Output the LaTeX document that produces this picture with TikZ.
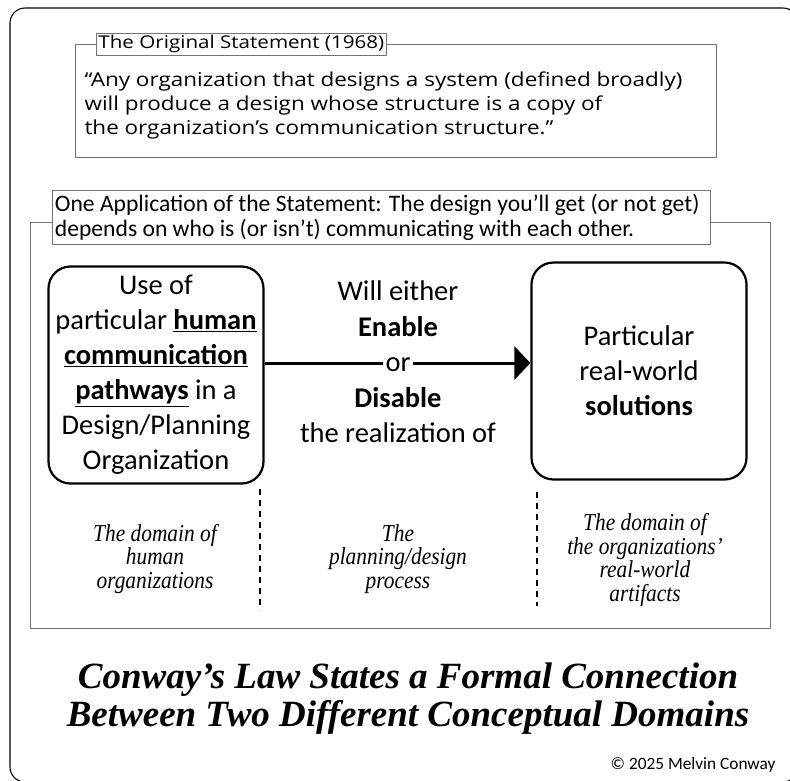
\documentclass[tikz,border=0pt]{standalone}
\usepackage{fontspec}
\setmainfont{Carlito}
\newfontfamily\quotefont[FakeStretch=1.17]{Open Sans}
\newfontfamily\notefont[FakeStretch=0.88]{Liberation Serif}
\newfontfamily\headfont{Liberation Serif}
\usetikzlibrary{arrows.meta}
\begin{document}
\begin{tikzpicture}[x=1pt,y=-1pt, line join=round,
    frame/.style={draw=black!55, line width=0.9pt},
    tag/.style={draw=black!55, line width=0.9pt, fill=white, inner sep=2.5pt, anchor=north west, align=flush left},
    domainbox/.style={draw, line width=2.2pt, rounded corners=22pt, minimum width=215pt, minimum height=217pt, align=center, font=\fontsize{28.5}{35}\selectfont},
    note/.style={align=center, font=\notefont\itshape\fontsize{24.3}{23.5}\selectfont},
    divider/.style={line width=2.6pt, dash pattern=on 6pt off 5pt}]
    \useasboundingbox (0,0) rectangle (790,780);
    \draw[line width=1.1pt, rounded corners=15pt] (10,8) rectangle (798,782);
    % the original statement
    \draw[frame] (75,44) rectangle (716,157);
    \node[tag, inner sep=2pt, font=\quotefont\fontsize{17.6}{20}\selectfont] (origtag) at (96,33) {The Original Statement (1968)};
    \node[anchor=north west, align=left, font=\quotefont\fontsize{19.2}{24}\selectfont] (quote) at (81,68)
        {“Any organization that designs a system (defined broadly)\\
         will produce a design whose structure is a copy of\\
         the organization’s communication structure.”};
    % one application
    \draw[frame] (52,222) -- (30,222) -- (30,628) -- (770,628) -- (770,222) -- (710,222);
    \node[tag, inner ysep=4pt, text width=653pt, font=\fontsize{23.6}{25}\selectfont] (apptag) at (52,190)
        {One Application of the Statement: The design you’ll get (or not get)\\
         depends on who is (or isn’t) communicating with each other.};
    \node[domainbox] (human) at (156,375)
        {Use of\\ particular \textbf{\underline{human}}\\ \textbf{\underline{communication}}\\
         \textbf{\underline{pathways}} in a\\ Design/Planning\\ Organization};
    \node[domainbox] (solutions) at (639,371)
        {Particular\\ real-world\\ \textbf{solutions}};
    \draw[line width=3pt, -{Triangle[length=16pt, width=33pt]}] (human.east |- 0,363) -- (solutions.west |- 0,363);
    \node[align=center, font=\fontsize{28.5}{35.5}\selectfont] (process) at (398,362)
        {Will either\\ \textbf{Enable}\\ \colorbox{white}{\strut or}\\ \textbf{Disable}\\ the realization of};
    % domains below
    \coordinate (div1top) at (260,489);
    \coordinate (div1bot) at (260,610);
    \coordinate (div2top) at (537,492);
    \coordinate (div2bot) at (537,606);
    \draw[divider] (div1top) -- (div1bot);
    \draw[divider] (div2top) -- (div2bot);
    \node[note] (humandom) at (155,559) {The domain of\\ human\\ organizations};
    \node[note] (plandom) at (398,559) {The\\ planning/design\\ process};
    \node[note] (artdom) at (645,560) {The domain of\\ the organizations’\\ real-world\\ artifacts};
    % headline
    \node[align=center, font=\headfont\bfseries\itshape\fontsize{37}{38}\selectfont] (headline) at (408,699)
        {Conway’s Law States a Formal Connection\\ Between Two Different Conceptual Domains};
    \node[anchor=east, font=\fontsize{17.3}{20}\selectfont] (copy) at (779,765) {© 2025 Melvin Conway};
\end{tikzpicture}
\end{document}
